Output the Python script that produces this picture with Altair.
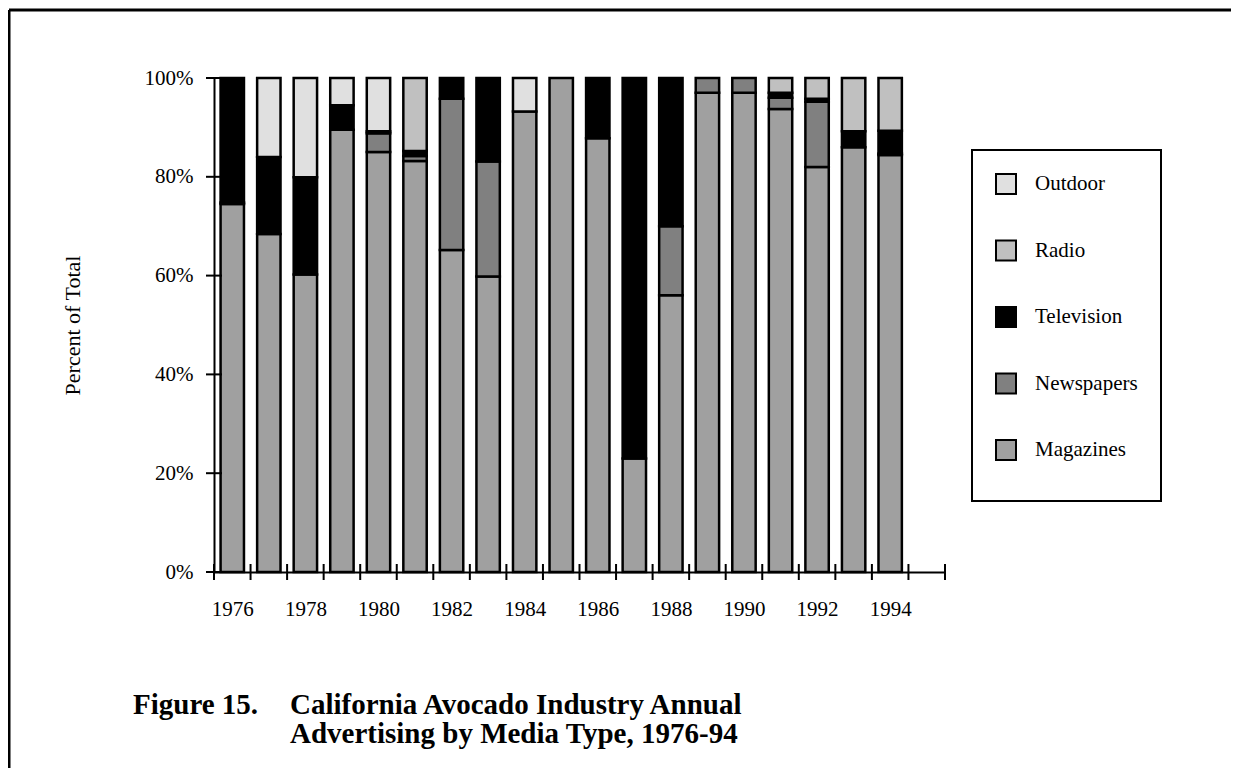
import altair as alt
import pandas as pd

years = list(range(1976, 1995))
media = ["Outdoor", "Radio", "Television", "Newspapers", "Magazines"]
colors = ["#e0e0e0", "#c0c0c0", "#000000", "#808080", "#a0a0a0"]

magazines  = [74.5, 68.4, 60.2, 89.5, 85.0, 83.2, 65.2, 59.8, 93.2, 100.0, 87.8, 23.0, 56.0, 97.0, 97.0, 93.7, 82.0, 86.0, 84.4]
newspapers = [0.3, 0.0, 0.0, 0.0, 3.8, 1.0, 30.6, 23.3, 0.0, 0.0, 0.0, 0.0, 14.0, 3.0, 3.0, 2.3, 13.2, 0.0, 0.3]
television = [25.2, 15.6, 19.7, 5.0, 0.4, 1.0, 4.2, 16.9, 0.0, 0.0, 12.2, 77.0, 30.0, 0.0, 0.0, 1.0, 0.6, 3.2, 4.6]
radio      = [0.0, 0.0, 0.0, 0.0, 0.0, 14.8, 0.0, 0.0, 0.0, 0.0, 0.0, 0.0, 0.0, 0.0, 0.0, 3.0, 4.2, 10.8, 10.7]
outdoor    = [0.0, 16.0, 20.1, 5.5, 10.8, 0.0, 0.0, 0.0, 6.8, 0.0, 0.0, 0.0, 0.0, 0.0, 0.0, 0.0, 0.0, 0.0, 0.0]

label_years = [1976, 1978, 1980, 1982, 1984, 1986, 1988, 1990, 1992, 1994]
y_ticks = [0, 20, 40, 60, 80, 100]
title_line1a = "Figure 15."
title_line1b = "California Avocado Industry Annual"
title_line2 = "Advertising by Media Type, 1976-94"
y_title = "Percent of Total"

series = {
    "Magazines": magazines,
    "Newspapers": newspapers,
    "Television": television,
    "Radio": radio,
    "Outdoor": outdoor,
}
stack_order = ["Magazines", "Newspapers", "Television", "Radio", "Outdoor"]

rows = []
for m in stack_order:
    for yr, v in zip(years, series[m]):
        rows.append({"year": yr, "media": m, "pct": v, "ord": stack_order.index(m)})
df = pd.DataFrame(rows)

boundaries = pd.DataFrame({"b": [years[0] - 0.5 + i for i in range(len(years) + 2)]})
yt = pd.DataFrame({"v": y_ticks})
one = pd.DataFrame({"a": [0]})

FONT = "Liberation Serif"
xscale = alt.Scale(domain=[1975.5, 1995.5], nice=False, zero=False)
yscale = alt.Scale(domain=[0, 100], nice=False)
xaxis = alt.Axis(values=label_years, format="d", ticks=False, grid=False, title=None,
                 labelFont=FONT, labelFontSize=21, labelColor="black", labelPadding=26,
                 domainColor="black", domainWidth=2, labelOverlap=False, labelFlush=False)
yaxis = alt.Axis(values=y_ticks, labelExpr="datum.value + '%'", ticks=False, grid=False,
                 title=y_title, titleFont=FONT, titleFontSize=22, titleFontWeight="normal",
                 titleColor="black", titleX=-142, titleY=247, titleAngle=270,
                 titleBaseline="middle", titleAlign="center",
                 labelFont=FONT, labelFontSize=21, labelColor="black", labelPadding=21,
                 domainColor="black", domainWidth=2)

bars = alt.Chart(df).transform_filter("datum.pct > 0").transform_stack(
    stack="pct", groupby=["year"], as_=["y0", "y1"], sort=[alt.SortField("ord", order="ascending")]
).transform_calculate(
    x0="datum.year - 0.32", x1="datum.year + 0.32"
).mark_bar(stroke="black", strokeWidth=2.5).encode(
    x=alt.X("x0:Q", scale=xscale, axis=xaxis),
    x2="x1:Q",
    y=alt.Y("y0:Q", scale=yscale, axis=yaxis),
    y2="y1:Q",
    color=alt.Color("media:N", scale=alt.Scale(domain=media, range=colors),
                    legend=alt.Legend(orient="none", legendX=758, legendY=72,
                                      title=" ", titleOrient="bottom", titleFontSize=10,
                                      titlePadding=4,
                                      symbolType="square", symbolSize=400,
                                      symbolStrokeColor="black", symbolStrokeWidth=2,
                                      symbolOpacity=1,
                                      labelFont=FONT, labelFontSize=21, labelColor="black",
                                      labelOffset=18, rowPadding=38.5, padding=23)),
)

xticks = alt.Chart(boundaries).mark_rule(color="black", strokeWidth=2).encode(
    x=alt.X("b:Q", scale=xscale, axis=xaxis),
    y=alt.value(486), y2=alt.value(502),
)

yticks = alt.Chart(yt).mark_rule(color="black", strokeWidth=2).encode(
    y=alt.Y("v:Q", scale=yscale, axis=yaxis),
    x=alt.value(-8), x2=alt.value(8),
)

frame_top = alt.Chart(one).mark_rule(color="black", strokeWidth=3).encode(
    x=alt.value(-205), x2=alt.value(1017), y=alt.value(-68)
)
frame_left = alt.Chart(one).mark_rule(color="black", strokeWidth=3).encode(
    x=alt.value(-205), y=alt.value(-68), y2=alt.value(690)
)

tstyle = dict(font=FONT, fontSize=29, fontWeight="bold", align="left",
              baseline="alphabetic", color="black")
t1 = alt.Chart(pd.DataFrame({"t": [title_line1a]})).mark_text(**tstyle).encode(
    text="t:N", x=alt.value(-81), y=alt.value(636))
t2 = alt.Chart(pd.DataFrame({"t": [title_line1b]})).mark_text(**tstyle).encode(
    text="t:N", x=alt.value(76), y=alt.value(636))
t3 = alt.Chart(pd.DataFrame({"t": [title_line2]})).mark_text(**tstyle).encode(
    text="t:N", x=alt.value(76), y=alt.value(665))

chart = alt.layer(bars, xticks, yticks, frame_top, frame_left, t1, t2, t3).properties(
    width=731, height=494,
    padding={"left": 206, "top": 70, "right": 286, "bottom": 196},
    autosize=alt.AutoSizeParams(type="none"),
).configure(background="white").configure_view(strokeWidth=0, stroke="transparent").configure_legend(
    strokeColor="black", strokeWidth=2
)

chart.save("out.html", embed_options={"renderer": "svg", "actions": False})
